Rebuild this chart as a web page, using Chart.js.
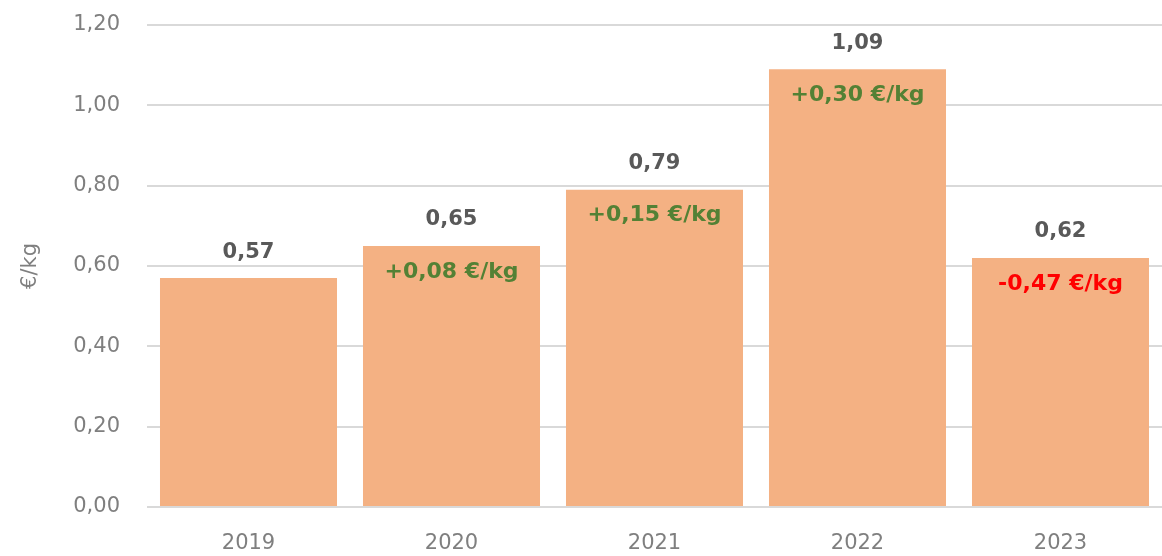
<!DOCTYPE html>
<html>
<head>
<meta charset="utf-8">
<script src="https://cdn.jsdelivr.net/npm/chart.js@4"></script>
<style>
  html, body { margin: 0; padding: 0; background: #fff; }
  #wrap { width: 1162px; height: 556px; }
</style>
</head>
<body>
<div id="wrap"><canvas id="chart" width="1162" height="556"></canvas></div>
<script>
// data
const years = ['2019', '2020', '2021', '2022', '2023'];
const prices = [0.57, 0.65, 0.79, 1.09, 0.62];
const deltas = [null, 0.08, 0.15, 0.30, -0.47];

const fontFamily = "'DejaVu Sans', 'Noto Sans', sans-serif";

function fmt(v) {
    return v.toFixed(2).replace('.', ',');
}

// value above each bar and year-on-year change just inside the top
const barLabels = {
    id: 'barLabels',
    afterDatasetsDraw(chart) {
        const ctx = chart.ctx;
        const meta = chart.getDatasetMeta(0);
        ctx.save();
        ctx.textAlign = 'center';
        ctx.textBaseline = 'middle';
        meta.data.forEach((bar, i) => {
            ctx.font = 'bold 21px ' + fontFamily;
            ctx.fillStyle = '#595959';
            ctx.fillText(fmt(prices[i]), bar.x, bar.y - 26);
            if (deltas[i] !== null) {
                const d = deltas[i];
                ctx.font = 'bold 22px ' + fontFamily;
                ctx.fillStyle = d < 0 ? '#ff0000' : '#538135';
                ctx.fillText((d < 0 ? '-' : '+') + fmt(Math.abs(d)) + ' €/kg', bar.x, bar.y + 26);
            }
        });
        ctx.restore();
    }
};

new Chart(document.getElementById('chart'), {
    type: 'bar',
    data: {
        labels: years,
        datasets: [{
            data: prices,
            backgroundColor: '#f4b183',
            barPercentage: 0.872,
            categoryPercentage: 1.0
        }]
    },
    options: {
        responsive: false,
        animation: false,
        layout: { padding: { top: 25, right: 0, left: 0, bottom: 0 } },
        plugins: {
            legend: { display: false },
            tooltip: { enabled: false }
        },
        scales: {
            x: {
                grid: { display: false },
                border: { display: false },
                ticks: {
                    color: '#7f7f7f',
                    font: { family: fontFamily, size: 21 },
                    padding: 16
                },
                afterFit(scale) { scale.height = 49; }
            },
            y: {
                min: 0,
                max: 1.2,
                ticks: {
                    stepSize: 0.2,
                    color: '#7f7f7f',
                    font: { family: fontFamily, size: 21 },
                    padding: 27,
                    callback: v => fmt(v)
                },
                grid: {
                    color: '#d9d9d9',
                    lineWidth: 2,
                    drawTicks: false
                },
                border: { display: false },
                title: {
                    display: true,
                    text: '€/kg',
                    color: '#7f7f7f',
                    font: { family: fontFamily, size: 21 },
                    padding: { top: 18, bottom: 0 }
                },
                afterFit(scale) {
                    scale.width = 147;
                    scale.paddingTop = 0;
                    scale.paddingBottom = 0;
                }
            }
        }
    },
    plugins: [barLabels]
});
</script>
</body>
</html>
